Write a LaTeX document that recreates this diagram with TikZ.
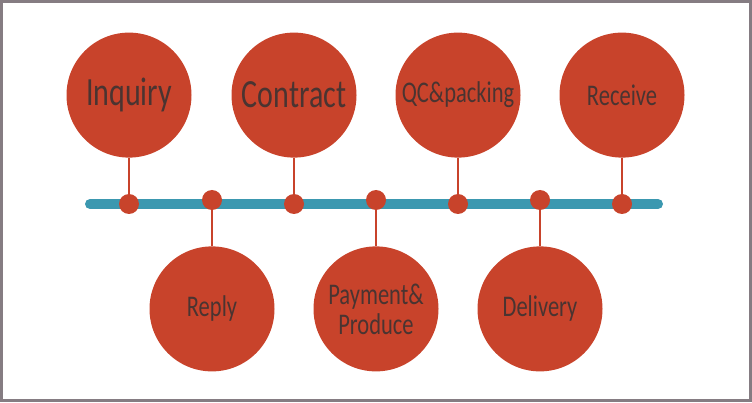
\documentclass[tikz,border=0pt]{standalone}
\usepackage{fontspec}
\newfontfamily\stagefont{Carlito}[FakeStretch=0.75]
\usetikzlibrary{positioning}
\definecolor{Frame}{HTML}{857C82}
\definecolor{Brick}{HTML}{C8432B}
\definecolor{Teal}{HTML}{3B98B0}
\definecolor{Ink}{HTML}{4A3431}
\tikzset{
  stage/.style={circle,fill=Brick,minimum size=125pt,inner sep=0pt,align=center,text=Ink,font=\stagefont\fontsize{30}{30}\selectfont},
  bigstage/.style={stage,font=\stagefont\fontsize{40}{40}\selectfont},
  knot/.style={circle,fill=Brick,minimum size=20pt,inner sep=0pt},
  track/.style={draw=Teal,line width=10pt,line cap=round},
  stem/.style={draw=Brick,line width=2pt}
}
\begin{document}
\begin{tikzpicture}[x=1pt,y=1pt,node distance=36pt]
  \useasboundingbox (0,0) rectangle (752,402);
  \draw[Frame,line width=3pt] (1.5,1.5) rectangle (750.5,400.5);
  % timeline
  \coordinate (start) at (90,198);
  \coordinate (end) at (658,198);
  \draw[track] (start) -- (end);
  \node[knot] (d1) at (129,198) {};
  \node[knot] (d2) at (212,202) {};
  \node[knot] (d3) at (294,198) {};
  \node[knot] (d4) at (376,202) {};
  \node[knot] (d5) at (458,198) {};
  \node[knot] (d6) at (540,202) {};
  \node[knot] (d7) at (622,198) {};
  % stages above
  \node[bigstage,above=of d1] (inquiry) {Inquiry};
  \node[bigstage,above=of d3] (contract) {Contract};
  \node[stage,above=of d5] (qc) {QC\&packing};
  \node[stage,above=of d7] (receive) {Receive};
  % stages below
  \node[stage,below=of d2] (reply) {Reply};
  \node[stage,below=of d4] (payment) {Payment\&\\Produce};
  \node[stage,below=of d6] (delivery) {Delivery};
  \foreach \s/\d in {inquiry/d1,reply/d2,contract/d3,payment/d4,qc/d5,delivery/d6,receive/d7}
    \draw[stem] (\s) -- (\d);
\end{tikzpicture}
\end{document}
